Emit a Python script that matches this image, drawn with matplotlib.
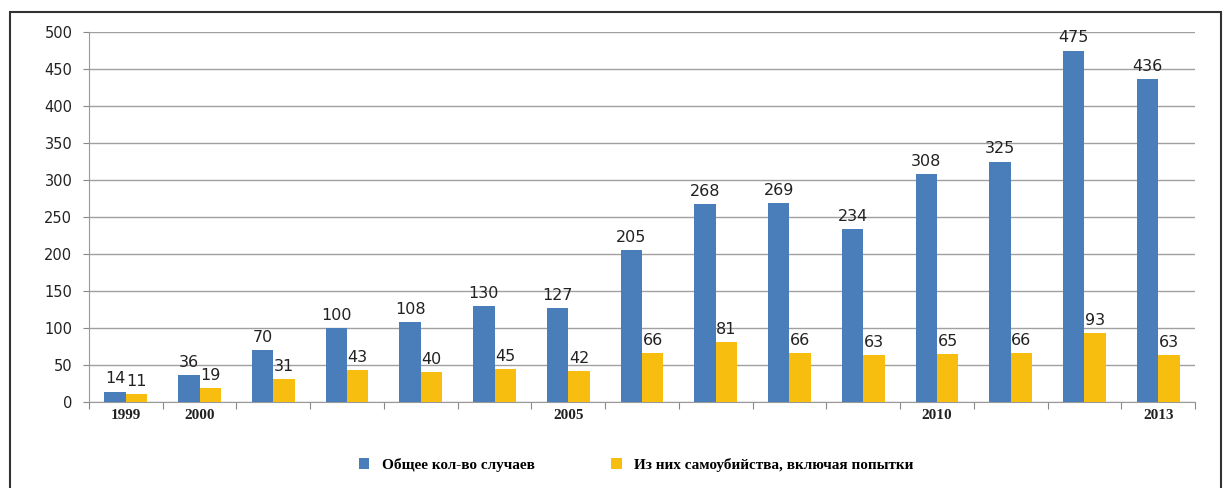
import numpy as np
import matplotlib.pyplot as plt
from matplotlib.patches import Rectangle

years = list(range(1999, 2014))
total_cases = [14, 36, 70, 100, 108, 130, 127, 205, 268, 269, 234, 308, 325, 475, 436]
suicides = [11, 19, 31, 43, 40, 45, 42, 66, 81, 66, 63, 65, 66, 93, 63]
shown_years = [1999, 2000, 2005, 2010, 2013]
legend_labels = ['Общее кол-во случаев', 'Из них самоубийства, включая попытки']

blue = '#4A7EBB'
yellow = '#F7BD0F'

fig = plt.figure(figsize=(12.23, 4.88), dpi=100)
ax = fig.add_axes([89/1223, 1-402/488, (1195-89)/1223, (402-32)/488])

x = np.arange(len(years))
w = 0.29
b1 = ax.bar(x - w/2, total_cases, w, color=blue, label=legend_labels[0], zorder=3)
b2 = ax.bar(x + w/2, suicides, w, color=yellow, label=legend_labels[1], zorder=3)

for rect, v in zip(b1, total_cases):
    ax.text(rect.get_x() + rect.get_width()/2, v + 7, str(v), ha='center', va='bottom',
            fontsize=11.5, color='#222222', family='DejaVu Sans')
for rect, v in zip(b2, suicides):
    ax.text(rect.get_x() + rect.get_width()/2, v + 7, str(v), ha='center', va='bottom',
            fontsize=11.5, color='#222222', family='DejaVu Sans')

ax.set_xlim(-0.5, len(years) - 0.5)
ax.set_ylim(0, 500)
ax.set_yticks(np.arange(0, 501, 50))
ax.tick_params(axis='y', labelsize=10.5, length=4, color='#888888', labelcolor='#222222', pad=8)
ax.yaxis.grid(True, color='#A0A0A0', linewidth=1.0, zorder=0)

# category boundary ticks, labels only for some years
ax.set_xticks(np.arange(-0.5, len(years), 1.0))
ax.set_xticklabels([])
ax.tick_params(axis='x', length=5, color='#888888')
for yr in shown_years:
    i = years.index(yr)
    ax.text(i, -10, str(yr), ha='center', va='top', fontsize=11, fontweight='bold',
            family='Liberation Serif', color='#222222')

for s in ['top', 'right']:
    ax.spines[s].set_visible(False)
ax.spines['left'].set_color('#999999')
ax.spines['bottom'].set_color('#999999')

leg = fig.legend(handles=[b1, b2], loc='center', bbox_to_anchor=(0.52, 1-465/488),
                 ncol=2, frameon=False, handlelength=0.7, handleheight=0.7,
                 columnspacing=5.0, handletextpad=0.8,
                 prop={'family': 'Liberation Serif', 'weight': 'bold', 'size': 11})

fig.patches.append(Rectangle((10/1223, -0.05), (1221-10)/1223, 1.05 - 12/488,
                             transform=fig.transFigure, fill=False,
                             edgecolor='#333333', linewidth=1.5))

fig.savefig('out.png', dpi=100)
